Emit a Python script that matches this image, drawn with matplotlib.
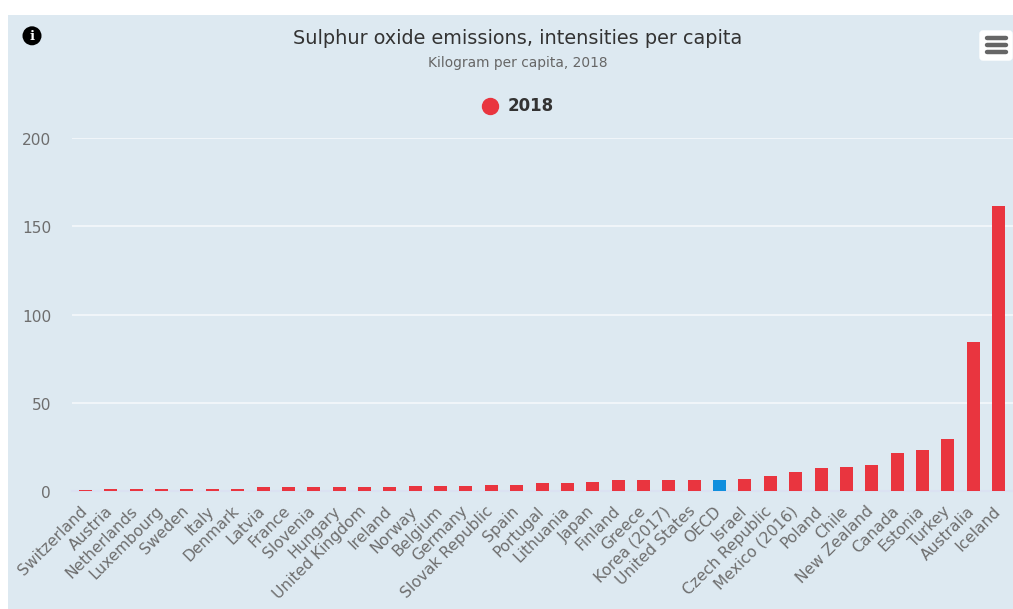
import matplotlib
matplotlib.use('Agg')
import matplotlib.pyplot as plt
from matplotlib.lines import Line2D
from matplotlib.patches import Rectangle, FancyBboxPatch, Circle
from matplotlib.transforms import ScaledTranslation

countries = ['Switzerland', 'Austria', 'Netherlands', 'Luxembourg', 'Sweden', 'Italy', 'Denmark',
             'Latvia', 'France', 'Slovenia', 'Hungary', 'United Kingdom', 'Ireland', 'Norway',
             'Belgium', 'Germany', 'Slovak Republic', 'Spain', 'Portugal', 'Lithuania', 'Japan',
             'Finland', 'Greece', 'Korea (2017)', 'United States', 'OECD', 'Israel',
             'Czech Republic', 'Mexico (2016)', 'Poland', 'Chile', 'New Zealand', 'Canada',
             'Estonia', 'Turkey', 'Australia', 'Iceland']
values = [0.6, 1.1, 1.1, 1.1, 1.1, 1.1, 1.1,
          2.2, 2.2, 2.2, 2.2, 2.2, 2.2, 2.8,
          2.8, 2.8, 3.4, 3.4, 4.5, 4.5, 5.1,
          6.2, 6.2, 6.2, 6.2, 6.2, 6.8,
          8.5, 10.8, 13.0, 13.6, 14.7, 21.5,
          23.2, 29.5, 84.4, 161.5]
y_ticks = [0, 50, 100, 150, 200]

W, H = 1013, 609
panel_color = '#dde9f1'
red = '#e9353f'
blue = '#0f8fdd'
text_grey = '#6e6e6e'
bar_colors = [blue if c == 'OECD' else red for c in countries]

fig = plt.figure(figsize=(W / 100, H / 100), dpi=100, facecolor='white')
# blue panel behind everything, white strip stays on top and left
fig.add_artist(Rectangle((8 / W, 0), (W - 8) / W, (H - 15) / H, transform=fig.transFigure,
                         facecolor=panel_color, edgecolor='none', zorder=-1))

ax = fig.add_axes([72 / W, (H - 491) / H, (W - 72) / W, 353 / H])
ax.patch.set_alpha(0)
ax.bar(range(len(countries)), values, width=13 / 25.36, color=bar_colors, zorder=3)
ax.set_xlim(-0.532, 36.57)
ax.set_ylim(0, 200)
for s in ['top', 'right', 'left']:
    ax.spines[s].set_visible(False)
ax.spines['bottom'].set_color('#dbe2f2')
ax.spines['bottom'].set_linewidth(1.5)
ax.spines['bottom'].set_zorder(2)
ax.set_yticks(y_ticks)
ax.set_yticklabels([str(v) for v in y_ticks], fontsize=11.1, color=text_grey)
ax.yaxis.set_tick_params(length=0, pad=15)
ax.grid(axis='y', color='#f4f8fb', linewidth=1.2, zorder=1)
ax.set_axisbelow(True)
ax.set_xticks(range(len(countries)))
ax.set_xticklabels(countries, rotation=45, ha='right', rotation_mode='anchor',
                   fontsize=11.2, color=text_grey)
ax.xaxis.set_tick_params(length=0, pad=9)

# nudge tick labels to where the original sits (offsets in inches)
for lab in ax.get_xticklabels():
    lab.set_transform(lab.get_transform() + ScaledTranslation(-0.06, 0, fig.dpi_scale_trans))
for lab in ax.get_yticklabels():
    lab.set_transform(lab.get_transform() + ScaledTranslation(0, -0.01, fig.dpi_scale_trans))

fig.text(517.5 / W, 1 - 38.5 / H, 'Sulphur oxide emissions, intensities per capita', ha='center',
         va='center', fontsize=13.9, color='#333333')
fig.text(517.5 / W, 1 - 63 / H, 'Kilogram per capita, 2018', ha='center', va='center',
         fontsize=9.9, color='#666666')

handle = Line2D([], [], linestyle='none', marker='o', markersize=11.5, color=red)
fig.legend([handle], ['2018'], loc='center', bbox_to_anchor=(513.5 / W, 1 - 106.5 / H), frameon=False,
           handletextpad=0.1, prop={'size': 12, 'weight': 'bold'}, labelcolor='#333333')

# info icon and menu button drawn in pixel space
deco = fig.add_axes([0, 0, 1, 1], zorder=5)
deco.set_xlim(0, W)
deco.set_ylim(H, 0)
deco.axis('off')
deco.add_patch(Circle((32, 35.8), 9.5, facecolor='black', edgecolor='none'))
deco.text(32, 36, 'i', ha='center', va='center', color='white', fontsize=9.5,
          fontweight='bold', family='DejaVu Serif')
deco.add_patch(FancyBboxPatch((980, 31), 32, 29, boxstyle='round,pad=0,rounding_size=3',
                              facecolor='white', edgecolor='white', linewidth=1))
for yy in [38, 45, 52]:
    deco.plot([987, 1006], [yy, yy], color='#666666', linewidth=3.2, solid_capstyle='round')

fig.savefig('out.png', dpi=100)
